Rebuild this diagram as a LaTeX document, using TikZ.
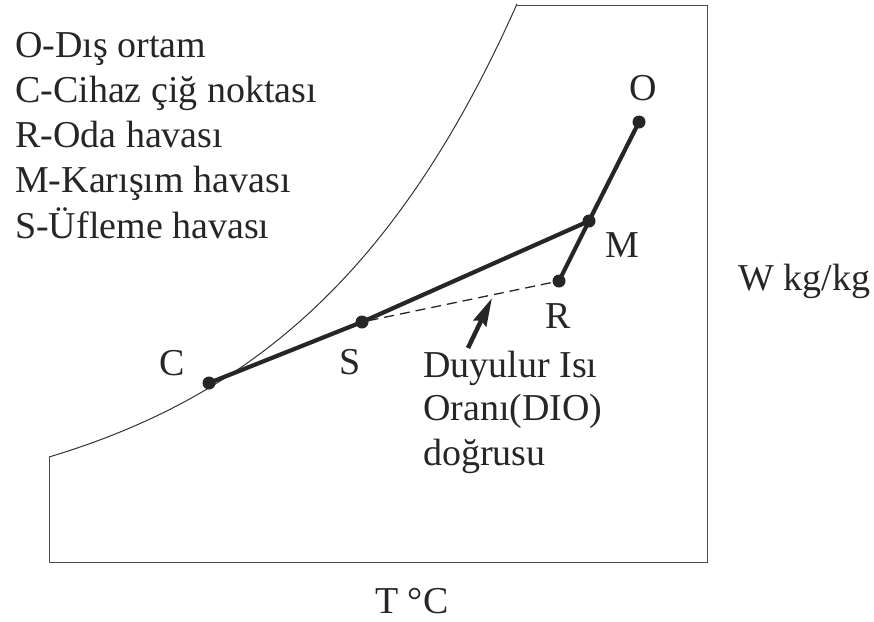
\documentclass[tikz,border=0pt]{standalone}
\usepackage{fontspec}
\setmainfont{Liberation Serif}
\usetikzlibrary{arrows.meta}
\begin{document}
\begin{tikzpicture}[x=1pt,y=-1pt,
  every node/.style={font=\fontsize{38}{42}\selectfont, text=black!85, inner sep=0pt},
  ptdot/.style={circle, fill=black!85, minimum size=13pt, inner sep=0pt},
  thickline/.style={line width=4.2pt, black!85},
  frame/.style={line width=0.9pt, black!70},
  lab/.style={anchor=base},
  leg/.style={anchor=base west}]
\useasboundingbox (0,0) rectangle (874,621);
% frame
\draw[frame] (517,5) -- (707,5) -- (707,562) -- (49,562) -- (49,457);
% saturation curve
\draw[line width=1pt, black!80] plot[domain=49:517, samples=80, smooth] (\x,{526.8-69.8*exp(0.0043*(\x-49))});
% points
\node[ptdot] (C) at (209,383) {};
\node[ptdot] (S) at (362,322) {};
\node[ptdot] (M) at (589,221) {};
\node[ptdot] (R) at (559,281) {};
\node[ptdot] (O) at (639,122) {};
\draw[thickline] (C.center) -- (S.center) -- (M.center);
\draw[thickline] (O.center) -- (M.center) -- (R.center);
\draw[line width=1.3pt, black!85, dash pattern=on 10pt off 6pt] (S) -- (R);
% arrow
\coordinate (atail) at (468,348);
\coordinate (atip) at (492,298);
\draw[line width=4.5pt, black!85, -{Stealth[length=28pt,width=14pt,inset=3pt]}] (atail) -- (atip);
% labels
\node[lab] (lO) at (643,100) {O};
\node[lab] (lM) at (622,257) {M};
\node[lab] (lR) at (558,328) {R};
\node[lab] (lC) at (172,375) {C};
\node[lab] (lS) at (350,374) {S};
\node[anchor=base west] (lW) at (738,290) {W kg/kg};
\node[anchor=base west] (lT) at (375,613) {T °C};
% DIO text
\node[leg] (d1) at (423,377) {Duyulur Isı};
\node[leg] (d2) at (423,420) {Oranı(DIO)};
\node[leg] (d3) at (423,465) {doğrusu};
% legend
\node[leg] (g1) at (15,57) {O-Dış ortam};
\node[leg] (g2) at (15,102) {C-Cihaz çiğ noktası};
\node[leg] (g3) at (15,147) {R-Oda havası};
\node[leg] (g4) at (15,192) {M-Karışım havası};
\node[leg] (g5) at (15,238) {S-Üfleme havası};
\end{tikzpicture}
\end{document}
